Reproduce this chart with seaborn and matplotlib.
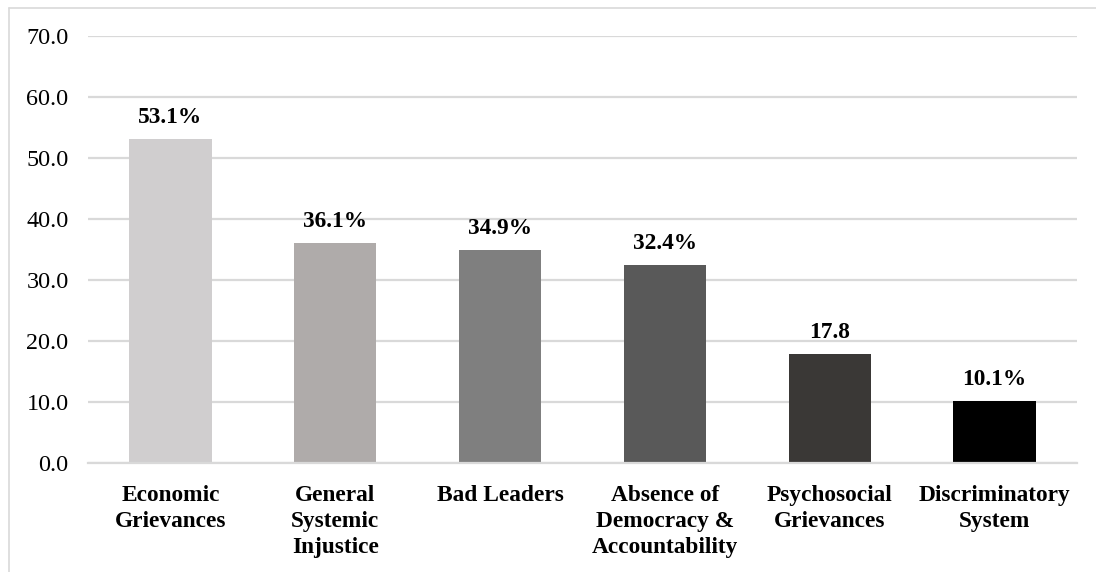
import os
import matplotlib
matplotlib.use("Agg")
import matplotlib.pyplot as plt
from matplotlib import font_manager
from matplotlib.lines import Line2D
import seaborn as sns
import pandas as pd

categories = [
    "Economic\nGrievances",
    "General\nSystemic\nInjustice",
    "Bad Leaders",
    "Absence of\nDemocracy &\nAccountability",
    "Psychosocial\nGrievances",
    "Discriminatory\nSystem",
]
values = [53.1, 36.1, 34.9, 32.4, 17.8, 10.1]
value_labels = ["53.1%", "36.1%", "34.9%", "32.4%", "17.8", "10.1%"]
bar_colors = ["#D0CECF", "#AFABAA", "#7F7F7F", "#595959", "#3A3836", "#000000"]
y_ticks = [0, 10, 20, 30, 40, 50, 60, 70]

# register the Times-metric serif faces explicitly
for fn in ["LiberationSerif-Regular.ttf", "LiberationSerif-Bold.ttf"]:
    p = os.path.join("/usr/share/fonts/truetype/liberation", fn)
    if os.path.exists(p):
        font_manager.fontManager.addfont(p)

sns.set_theme(style="white")
plt.rcParams["font.family"] = ["Liberation Serif", "DejaVu Serif"]

df = pd.DataFrame({"category": categories, "value": values})

fig = plt.figure(figsize=(10.96, 5.72), dpi=100)
ax = fig.add_axes([88 / 1096, 1 - 463 / 572, (1077 - 88) / 1096, (463 - 36) / 572])

sns.barplot(
    data=df, x="category", y="value", hue="category",
    palette=bar_colors, legend=False, width=0.5, ax=ax,
    saturation=1, linewidth=0,
)

FS = 16.8
ax.set_ylim(0, 70)
ax.set_yticks(y_ticks)
ax.set_yticklabels([f"{t:.1f}" for t in y_ticks], fontsize=FS + 0.6, color="#000000")
ax.yaxis.grid(True, color="#D9D9D9", linewidth=1.6)
ax.set_axisbelow(True)
ax.tick_params(axis="y", length=0, pad=14)
ax.tick_params(axis="x", length=0, pad=16)
for lbl in ax.get_xticklabels():
    lbl.set_fontsize(FS)
    lbl.set_fontweight("bold")
    lbl.set_color("#000000")
    lbl.set_linespacing(1.32)
    lbl.set_verticalalignment("top")
ax.set_xlabel("")
ax.set_ylabel("")
for side in ["top", "right", "left"]:
    ax.spines[side].set_visible(False)
ax.spines["bottom"].set_color("#D9D9D9")
ax.spines["bottom"].set_linewidth(1.6)

for idx, container in enumerate(ax.containers):
    ax.bar_label(container, labels=[value_labels[idx]], padding=8,
                 fontsize=FS, fontweight="bold", color="#000000")

# chart frame (top and left edges)
fig.add_artist(Line2D([8.5 / 1096, 1.0], [1 - 7.5 / 572, 1 - 7.5 / 572],
                      transform=fig.transFigure, color="#D9D9D9", linewidth=1.2))
fig.add_artist(Line2D([8.5 / 1096, 8.5 / 1096], [0, 1 - 7.5 / 572],
                      transform=fig.transFigure, color="#D9D9D9", linewidth=1.2))

fig.savefig("out.png", dpi=100, facecolor="white")
